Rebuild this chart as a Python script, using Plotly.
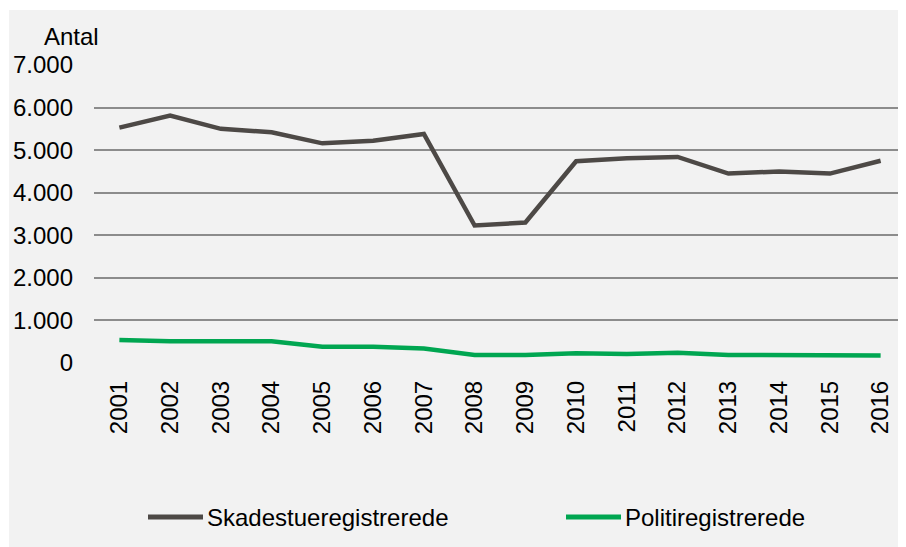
import plotly.graph_objects as go

years = [str(y) for y in range(2001, 2017)]
skadestue = [5530, 5810, 5500, 5420, 5160, 5220, 5380, 3230, 3300, 4740, 4810, 4840, 4450, 4500, 4450, 4750]
politi = [540, 510, 510, 510, 380, 380, 340, 190, 190, 230, 210, 240, 190, 185, 160, 175]

series_names = ["Skadestueregistrerede", "Politiregistrerede"]
series_colors = ["#4D4946", "#00A651"]
y_ticks = [0, 1000, 2000, 3000, 4000, 5000, 6000, 7000]

FONT = "Liberation Sans, Arial, sans-serif"
FS = 24
OFF = 8  # default page body margin
W, H = 906 - OFF, 547 - OFF
L = 94 - OFF
T = 65 - OFF
PLOT_BOTTOM = 363 - OFF
PLOT_RIGHT = 906 - OFF
R = max(W - PLOT_RIGHT, 0)
B = H - PLOT_BOTTOM
pw, ph = W - L - R, H - T - B

fig = go.Figure()
for vals, name, col in zip([skadestue, politi], series_names, series_colors):
    fig.add_trace(go.Scatter(x=years, y=vals, mode="lines", name=name,
                             line=dict(color=col, width=4.5), showlegend=False))

def px_x(p):
    # page pixel -> paper fraction
    return (p - OFF - L) / pw

def px_y(p):
    return (PLOT_BOTTOM - (p - OFF)) / ph

fig.add_shape(type="rect", xref="paper", yref="paper",
              x0=px_x(9), x1=px_x(920), y0=px_y(560), y1=px_y(10),
              fillcolor="#F2F2F2", line=dict(width=0), layer="below")

fig.add_annotation(text="Antal", xref="paper", yref="paper",
                   x=px_x(42), y=px_y(36), xanchor="left", yanchor="middle",
                   showarrow=False, font=dict(family=FONT, size=FS, color="#000000"))

# manual legend
legend_starts = [148, 566]
for x0, name, col in zip(legend_starts, series_names, series_colors):
    fig.add_shape(type="line", xref="paper", yref="paper",
                  x0=px_x(x0), x1=px_x(x0 + 55), y0=px_y(517), y1=px_y(517),
                  line=dict(color=col, width=5))
    fig.add_annotation(text=name, xref="paper", yref="paper",
                       x=px_x(x0 + 57), y=px_y(517), xanchor="left", yanchor="middle",
                       showarrow=False, font=dict(family=FONT, size=FS, color="#000000"))

fig.update_layout(
    width=W, height=H,
    margin=dict(l=L, r=R, t=T, b=B),
    paper_bgcolor="white",
    plot_bgcolor="rgba(0,0,0,0)",
    separators=",.",
    font=dict(family=FONT, size=FS, color="#000000"),
    showlegend=False,
    xaxis=dict(type="category", range=[-0.5, len(years) - 0.5], showgrid=False,
               showline=False, zeroline=False,
               tickangle=-90, ticks="", ticklabelstandoff=12,
               tickfont=dict(family=FONT, size=FS, color="#000000")),
    yaxis=dict(range=[0, 7000], tickvals=y_ticks, tickformat=",d",
               showgrid=True, gridcolor="#8C8C8C", gridwidth=1.5,
               zeroline=False, showline=False, ticks="", ticklabelstandoff=20,
               tickfont=dict(family=FONT, size=FS, color="#000000")),
)

fig.write_html("out.html")
